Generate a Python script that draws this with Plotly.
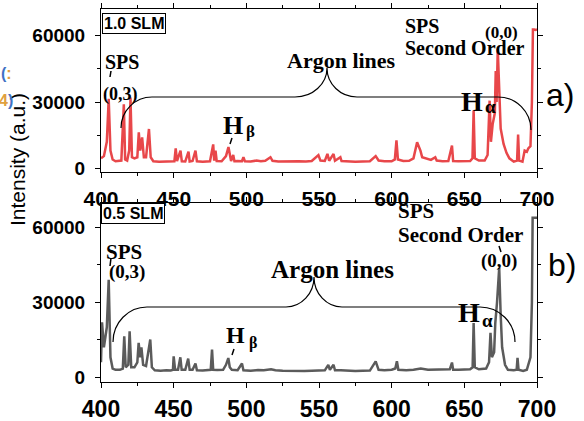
import plotly.graph_objects as go

# ---------------- data ----------------
wl_top = [400, 402, 404, 405.3, 406.5, 408, 410, 412, 414, 415.7, 416.6, 418, 419.4, 420.3, 421.3,
          423, 425, 426, 427, 428.3, 429.5, 431, 433, 434.2, 436, 440, 444, 448, 450.5, 451.4,
          452.3, 454.7, 455.6, 458, 460.2, 461, 463, 465, 466, 470, 473, 475, 477.2, 477.9, 478.8,
          479.6, 483, 486, 487.7, 488.5, 489.5, 491, 491.8, 494, 497, 498, 499, 503, 507, 510,
          513, 516.6, 518, 522, 527, 531, 536, 541, 545, 549.6, 551, 554, 555.8, 557, 560,
          561, 564.7, 565.5, 570, 575, 580, 585, 589, 591, 595, 600, 602.2, 603.3, 604.3, 608,
          612, 615, 617.5, 619.8, 621, 624, 627, 630, 631, 635, 639, 641.5, 642.3, 646, 650,
          654, 655.6, 656.4, 657.2, 660, 664, 666, 667.4, 668.3, 669.5, 671, 671.6, 672.2, 673, 673.8,
          675, 677, 679, 681, 684, 686.3, 687, 687.7, 690, 691.5, 693, 694, 695.5, 696.5, 697.2,
          698, 699, 700]
int_top = [4500, 5500, 12000, 31500, 8000, 4000, 3200, 3400, 3500, 29000, 4000, 3500, 8000, 32000, 5000,
           4500, 5000, 16300, 8000, 14000, 5000, 5000, 17800, 5000, 3200, 3000, 3100, 3000, 3200, 9000,
           3200, 8000, 3200, 3100, 7500, 3100, 3300, 8000, 3200, 3000, 3300, 3200, 10800, 3500, 8000,
           3300, 3200, 5500, 9600, 6000, 3300, 6000, 3200, 3300, 3200, 5000, 3200, 3100, 3500, 3200,
           3400, 5000, 3400, 3100, 3200, 3000, 3200, 3100, 3300, 6000, 3500, 3300, 6500, 3400, 6500,
           3400, 5000, 3300, 3100, 3000, 3100, 3200, 5500, 3500, 3200, 3200, 4000, 12600, 4000, 3300,
           3400, 4500, 11800, 8000, 5000, 4500, 3800, 5000, 3500, 3200, 3300, 10300, 3300, 3200, 3300,
           3300, 4500, 26100, 4500, 3500, 3500, 6000, 30600, 12000, 20000, 25000, 44000, 30000, 54000, 35000,
           18000, 11000, 7000, 4500, 3000, 3500, 15300, 3500, 3000, 8000, 7500, 9000, 10000, 30000, 62800,
           62800, 62600, 62800]

wl_bot = [400, 400.7, 402, 404, 405.3, 406.5, 408, 410, 413, 415, 416, 417, 418.8, 419.7, 420.8,
          423, 425, 425.9, 427, 427.8, 429, 431, 433.9, 435, 437, 441, 445, 448, 449.5, 450,
          451, 453, 454.6, 455.5, 458, 460, 461, 463, 465, 466, 470, 473, 475.5, 476.4, 477.2,
          480, 484, 486, 487.6, 488.6, 490, 494, 497, 498, 503, 508, 512, 517, 520, 525,
          530, 535, 540, 545, 550, 554, 556.4, 557.5, 560, 561, 565, 570, 575, 580, 585,
          589, 591, 595, 600, 602.5, 603.6, 604.6, 610, 615, 620, 625, 630, 635, 640, 641.5,
          642.3, 646, 650, 654, 655.7, 656.4, 657.2, 660, 665, 667, 668, 669, 670.5, 671.3, 672.5,
          674, 675, 676, 678, 680, 684, 686, 686.6, 687.3, 690.5, 693, 695.5, 696.5, 697, 698,
          699, 700]
int_bot = [6000, 22000, 12000, 20000, 39000, 8000, 3500, 3000, 3000, 3500, 16400, 4000, 5000, 18400, 4000,
           4000, 6000, 13800, 8000, 12000, 5000, 4500, 15100, 4000, 2800, 2600, 2800, 2700, 3000, 8400,
           3000, 3000, 8000, 3000, 3000, 7500, 3000, 3000, 5500, 2800, 2700, 3000, 3000, 11100, 3000,
           2900, 3000, 5000, 7700, 4000, 3000, 2800, 5500, 2800, 2600, 2900, 2800, 3200, 2800, 2600,
           2500, 2500, 2500, 2600, 2700, 2800, 5000, 3000, 5000, 2800, 2800, 2500, 2500, 2600, 2700,
           6400, 3000, 2800, 3000, 3500, 6400, 3000, 2800, 3000, 3500, 3000, 3000, 3000, 3200, 5900,
           3000, 3000, 3000, 3200, 4000, 21700, 4000, 3200, 3500, 6000, 17800, 8000, 10000, 21700, 30000,
           43800, 25000, 12000, 5000, 3000, 2800, 3000, 7800, 3000, 2500, 3000, 8000, 30000, 63800, 63800,
           63700, 63800]

x_ticks = [400, 450, 500, 550, 600, 650, 700]
y_ticks = [0, 30000, 60000]
y_tick_text = ["0", "30000", "60000"]

# ---------------- geometry helpers ----------------
W, H = 584, 421
ML, MR, MT, MB = 101, 47, 9, 39
PW = W - ML - MR
PH = H - MT - MB


def px(x):
    return (x - ML) / PW


def py(y):
    return (H - MB - y) / PH


RED = "#e8474a"
GRAY = "#5b5b5b"
SERIF = "Liberation Serif, Times New Roman, serif"
SANS = "Liberation Sans, Arial, sans-serif"

fig = go.Figure()
fig.add_trace(go.Scatter(x=wl_top, y=int_top, mode="lines", line=dict(color=RED, width=2.5),
                         xaxis="x", yaxis="y", showlegend=False, hoverinfo="skip"))
fig.add_trace(go.Scatter(x=wl_bot, y=int_bot, mode="lines", line=dict(color=GRAY, width=2.5),
                         xaxis="x2", yaxis="y2", showlegend=False, hoverinfo="skip"))

common = dict(showline=True, linecolor="black", linewidth=1, mirror="ticks", ticks="outside",
              ticklen=5, tickcolor="black", tickwidth=1, showgrid=False, zeroline=False,
              automargin=False)

xcommon = dict(common, range=[400, 700], tickvals=x_ticks,
               minor=dict(ticks="outside", ticklen=3, dtick=25, tick0=400, tickcolor="black", showgrid=False))
ycommon = dict(common, tickvals=y_ticks, ticktext=y_tick_text, ticklabelstandoff=6,
               tickfont=dict(family=SANS, size=19, color="black", weight="bold"),
               minor=dict(ticks="outside", ticklen=3, dtick=15000, tick0=0, tickcolor="black", showgrid=False))

fig.update_layout(
    width=W, height=H,
    margin=dict(l=ML, r=MR, t=MT, b=MB, pad=0, autoexpand=False),
    paper_bgcolor="white", plot_bgcolor="white",
    xaxis=dict(xcommon, anchor="y", domain=[0, 1],
               tickfont=dict(family=SANS, size=21, color="black", weight="bold"), ticklabelstandoff=3),
    yaxis=dict(ycommon, anchor="x", domain=[py(171.7), 1], range=[-1540, 72080]),
    xaxis2=dict(xcommon, anchor="y2", domain=[0, 1],
                tickfont=dict(family=SANS, size=23, color="black", weight="bold"), ticklabelstandoff=1),
    yaxis2=dict(ycommon, anchor="x2", domain=[0, py(203.3)], range=[-1880, 69600]),
)

# ---------------- annotations ----------------
ann = []


def text(t, x, y, size, family=SERIF, bold=True, xanchor="center", color="black", angle=0):
    ann.append(dict(text=t, x=px(x), y=py(y), xref="paper", yref="paper", showarrow=False,
                    xanchor=xanchor, yanchor="middle", textangle=angle,
                    font=dict(family=family, size=size, color=color, weight="bold" if bold else "normal")))


# top panel
text("SPS", 122, 62, 20)
text("(0,3)", 120, 94, 18)
text("Argon lines", 341, 61, 22)
text("H", 232.5, 125, 26)
text("β", 250, 131, 17)
text("H", 472, 101, 28)
text("α", 490, 107, 19)
text("SPS", 403, 26, 20, xanchor="left")
text("Second Order", 403, 48, 20, xanchor="left")
text("(0,0)", 501, 32, 17)
# bottom panel
text("SPS", 124, 252, 21)
text("(0,3)", 126.5, 272, 19)
text("Argon lines", 332, 269, 25)
text("H", 235.5, 335, 24)
text("β", 252.5, 343, 16)
text("H", 469, 312, 28)
text("α", 487, 320, 19)
text("SPS", 396, 211, 21, xanchor="left")
text("Second Order", 396, 235, 21, xanchor="left")
text("(0,0)", 498.5, 261, 19)
# panel labels
text("a)", 560, 95, 32, family=SANS, bold=False)
text("b)", 562, 265, 32, family=SANS, bold=False)
# axis title
text("Intensity (a.u.)", 17, 160, 21, family=SANS, bold=False, angle=-90)
# cropped fragments at the left edge
text("<span style='color:#3f72c4'>(</span><span style='color:#e0a040'>:</span>", 6, 73, 16,
     family=SANS, bold=True)
text("<span style='color:#e0a040'>4</span><span style='color:#3f72c4'>)</span>", 6, 100, 16,
     family=SANS, bold=True)

# boxed flow labels
for lbl, x0, y0 in [("1.0 SLM", 101.5, 13.3), ("0.5 SLM", 101.0, 203.0)]:
    ann.append(dict(text=lbl, x=px(x0), y=py(y0), xref="paper", yref="paper", showarrow=False,
                    xanchor="left", yanchor="top", bordercolor="black", borderwidth=1, borderpad=1,
                    bgcolor="white", font=dict(family=SANS, size=16, color="black", weight="bold")))

fig.update_layout(annotations=ann)

# ---------------- braces and pointers ----------------
K = 0.5523


def P(x, y):
    return f"{px(x):.5f},{py(y):.5f}"


def brace(xs, ys, x1, yl, xl, xc, yc, xr, xe, ye):
    d = f"M {P(xs, ys)} "
    d += f"C {P(xs, ys + K * (yl - ys))} {P(x1 - K * (x1 - xs), yl)} {P(x1, yl)} "
    d += f"L {P(xl, yl)} "
    d += f"C {P(xl + K * (xc - xl), yl)} {P(xc, yc + K * (yl - yc))} {P(xc, yc)} "
    d += f"C {P(xc, yc + K * (yl - yc))} {P(xr - K * (xr - xc), yl)} {P(xr, yl)} "
    x2 = xe - (ye - yl)
    d += f"L {P(x2, yl)} "
    d += f"C {P(x2 + K * (xe - x2), yl)} {P(xe, ye - K * (ye - yl))} {P(xe, ye)}"
    return dict(type="path", path=d, xref="paper", yref="paper",
                line=dict(color="black", width=1.2), layer="above")


shapes = [
    brace(121, 128, 152, 97, 295, 327, 68, 357, 531, 130),
    brace(113, 342, 147, 307, 286, 314, 277, 342, 515, 342),
]
for (xa, ya, xb, yb) in [(111, 71, 110, 77), (232, 138, 230, 144), (111, 258, 110, 266),
                         (234, 349, 232, 355), (499, 246, 501, 252)]:
    shapes.append(dict(type="line", x0=px(xa), y0=py(ya), x1=px(xb), y1=py(yb), xref="paper",
                       yref="paper", line=dict(color="black", width=1.5), layer="above"))
fig.update_layout(shapes=shapes)

fig.write_html("out.html", config={"displayModeBar": False},
               post_script="document.body.style.margin='0px';")
